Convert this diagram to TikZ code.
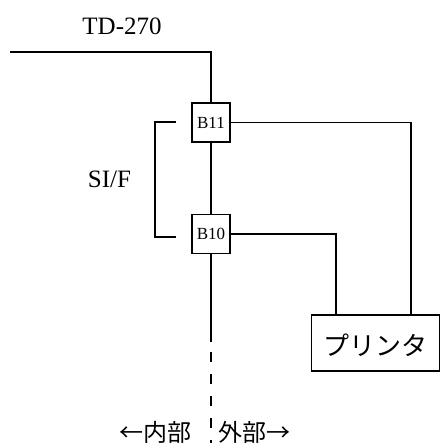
\documentclass[tikz,border=0pt]{standalone}
\usepackage{fontspec}
\setmainfont{Liberation Serif}
\newfontfamily\jpfont{Noto Sans CJK JP}
\begin{document}
\begin{tikzpicture}[x=1pt,y=-1pt,
  wire/.style={line width=1.6pt},
  conn/.style={draw,line width=1.6pt,minimum width=38pt,minimum height=39pt,inner sep=0pt,font=\fontsize{17}{17}\selectfont},
  lbl/.style={inner sep=0pt,font=\fontsize{25}{25}\selectfont},
  jp/.style={inner sep=0pt,font=\jpfont\fontsize{24}{24}\selectfont}]
\useasboundingbox (0,0) rectangle (441,443);
\node[conn] (b11) at (211,122.5) {B11};
\node[conn] (b10) at (211,234) {B10};
\node[draw,line width=1.6pt,minimum width=128pt,minimum height=56pt,inner sep=0pt] (prn) at (375.5,343) {};
\node[inner sep=0pt,font=\jpfont\fontsize{26}{26}\selectfont] (prntxt) at (375.5,345) {プリンタ};
\node[lbl,anchor=base] (td) at (122,35) {TD-270};
\node[lbl,anchor=base] (sif) at (109.5,188) {SI/F};
\node[jp,anchor=east] (inner) at (192,432) {←内部};
\node[jp,anchor=west] (outer) at (218,432) {外部→};
\coordinate (tl) at (10,52);
\coordinate (bsolid) at (211,342);
\coordinate (bend) at (211,450);
\coordinate (bt) at (176,122);
\coordinate (bb) at (176,237);
\draw[wire] (tl) -- (tl -| b11) -- (b11.north);
\draw[wire] (b11.south) -- (b10.north);
\draw[wire] (b10.south) -- (bsolid);
\draw[wire,dash pattern=on 10pt off 12pt,dash phase=-10pt] (bsolid) -- (bend);
\draw[wire] (bt) -- ++(-21,0) |- (bb);
\draw[wire] (b11.east) -- (411,122.5) -- (411,0 |- prn.north);
\draw[wire] (b10.east) -- (336,234) -- (336,0 |- prn.north);
\end{tikzpicture}
\end{document}
